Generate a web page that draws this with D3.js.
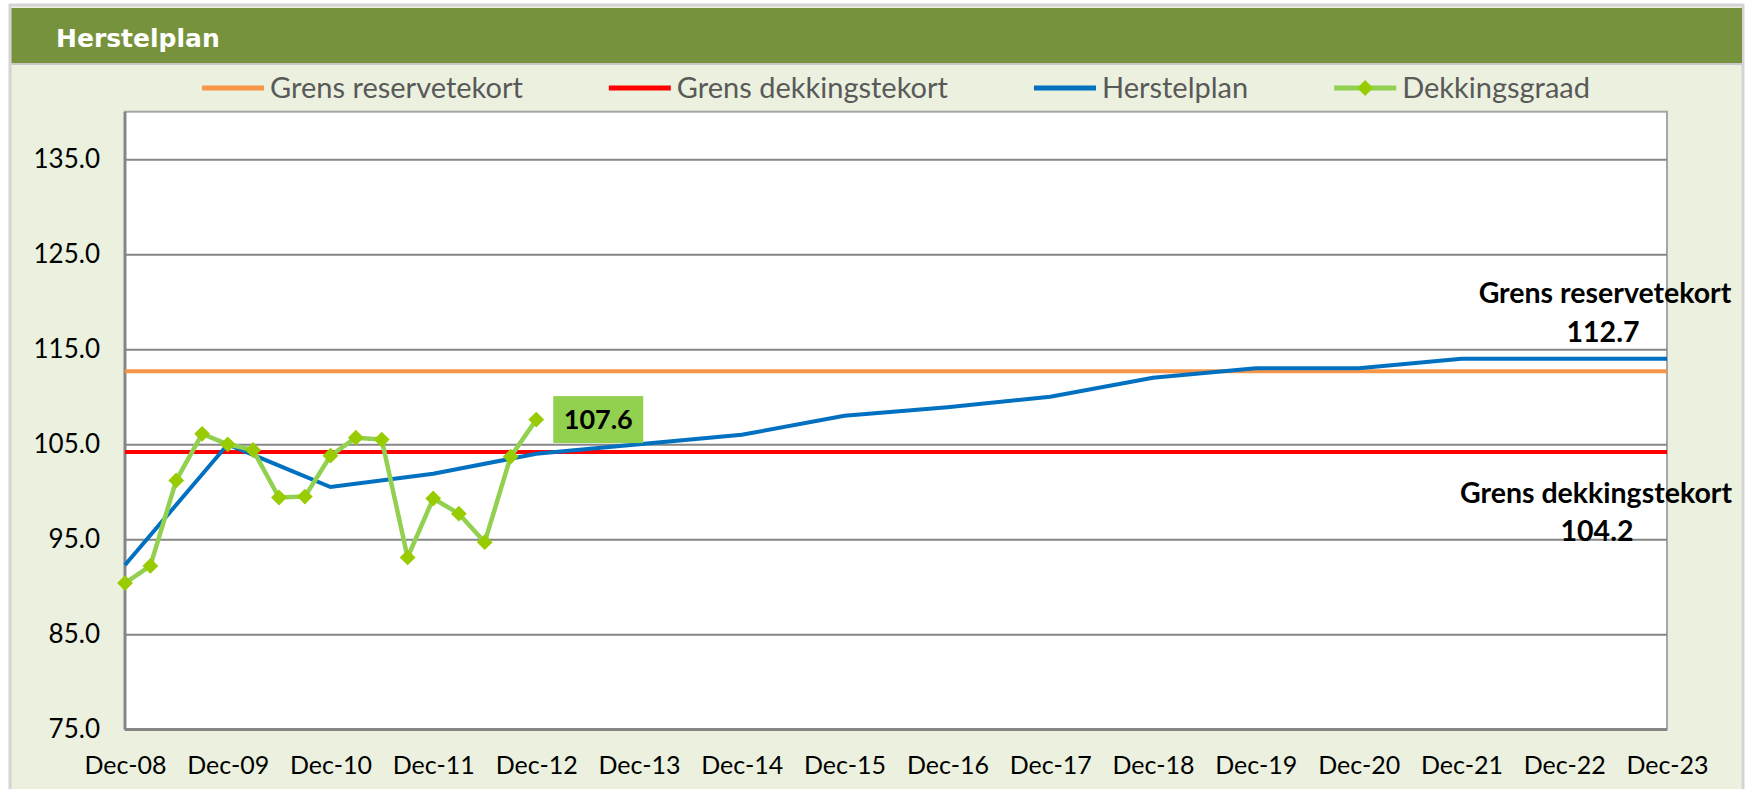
<!DOCTYPE html>
<html>
<head>
<meta charset="utf-8">
<script src="https://cdn.jsdelivr.net/npm/d3@7"></script>
<style>
  body { margin: 0; background: #fff; }
  text { font-family: Lato, "Open Sans", sans-serif; }
</style>
</head>
<body>
<div class="chart"></div>
<script>
// quarterly funding ratio, Dec-08 .. Dec-12
var quarters = ["2008-12", "2009-03", "2009-06", "2009-09", "2009-12", "2010-03", "2010-06", "2010-09",
  "2010-12", "2011-03", "2011-06", "2011-09", "2011-12", "2012-03", "2012-06", "2012-09", "2012-12"];
var dekkingsgraad = [90.4, 92.2, 101.2, 106.1, 105.0, 104.4, 99.4, 99.5,
  103.8, 105.7, 105.5, 93.1, 99.3, 97.7, 94.7, 103.7, 107.6];

// recovery plan, yearly
var years = ["2008-12", "2009-12", "2010-12", "2011-12", "2012-12", "2013-12", "2014-12", "2015-12",
  "2016-12", "2017-12", "2018-12", "2019-12", "2020-12", "2021-12", "2022-12", "2023-12"];
var herstelplan = [92.3, 105.0, 100.5, 101.9, 104.0, 105.0, 106.0, 108.0,
  108.9, 110.0, 112.0, 113.0, 113.0, 114.0, 114.0, 114.0];

var grensReserve = 112.7;
var grensDekking = 104.2;
var yTicks = [75, 85, 95, 105, 115, 125, 135];
var legendNames = ["Grens reservetekort", "Grens dekkingstekort", "Herstelplan", "Dekkingsgraad"];
var legendColors = ["#F79646", "#FF0000", "#0070C0", "#92D050"];

var svgWidth = 1746;
var svgHeight = 789;

var margin = { top: 111.7, right: 79, bottom: 59.6, left: 125 };
var width = svgWidth - margin.left - margin.right;
var height = svgHeight - margin.top - margin.bottom;

var parseMonth = d3.timeParse("%Y-%m");

var svg = d3.select(".chart")
  .append("svg")
  .attr("width", svgWidth)
  .attr("height", svgHeight);

// outer frame and title bar
svg.append("rect")
  .attr("x", 10).attr("y", 5)
  .attr("width", 1733).attr("height", 800)
  .attr("fill", "#EBF1DE")
  .attr("stroke", "#d4d4d4")
  .attr("stroke-width", 3);

svg.append("rect")
  .attr("x", 11.5).attr("y", 8)
  .attr("width", 1730.5).attr("height", 55)
  .attr("fill", "#76923C");

svg.append("line")
  .attr("x1", 11.5).attr("x2", 1742)
  .attr("y1", 64).attr("y2", 64)
  .attr("stroke", "#c8c8c8")
  .attr("stroke-width", 2);

svg.append("text")
  .attr("x", 56)
  .attr("y", 47)
  .attr("fill", "#fff")
  .style("font-family", "'DejaVu Sans', Verdana, sans-serif")
  .style("font-weight", "bold")
  .style("font-size", "25px")
  .text("Herstelplan");

var chartGroup = svg.append("g")
  .attr("transform", `translate(${margin.left}, ${margin.top})`);

// plot area
chartGroup.append("rect")
  .attr("width", width)
  .attr("height", height)
  .attr("fill", "#fff")
  .attr("stroke", "#a6a6a6")
  .attr("stroke-width", 2);

var xScale = d3.scaleTime()
  .domain([parseMonth(years[0]), parseMonth(years[years.length - 1])])
  .range([0, width]);

var yScale = d3.scaleLinear()
  .domain([75, 140])
  .range([height, 0]);

// y axis with gridlines
var leftAxis = d3.axisLeft(yScale)
  .tickValues(yTicks)
  .tickFormat(d3.format(".1f"))
  .tickSize(-width)
  .tickPadding(25);

var yAxis = chartGroup.append("g")
  .call(leftAxis);
yAxis.select(".domain").remove();
yAxis.selectAll(".tick line")
  .attr("stroke", "#868686")
  .attr("stroke-width", 2);
yAxis.selectAll(".tick text")
  .attr("fill", "#000")
  .style("font-size", "26px");

var bottomAxis = d3.axisBottom(xScale)
  .tickValues(years.map(parseMonth))
  .tickFormat(d3.timeFormat("%b-%y"))
  .tickSize(0)
  .tickPadding(27);

var xAxis = chartGroup.append("g")
  .attr("transform", `translate(0, ${height})`)
  .call(bottomAxis);
xAxis.select(".domain").remove();
xAxis.selectAll(".tick text")
  .attr("fill", "#000")
  .style("font-size", "25px");

// axis lines
chartGroup.append("line")
  .attr("x1", 0).attr("x2", 0)
  .attr("y1", 0).attr("y2", height)
  .attr("stroke", "#868686")
  .attr("stroke-width", 3);
chartGroup.append("line")
  .attr("x1", 0).attr("x2", width)
  .attr("y1", height).attr("y2", height)
  .attr("stroke", "#868686")
  .attr("stroke-width", 3);

// limit lines
chartGroup.append("line")
  .attr("x1", 0).attr("x2", width)
  .attr("y1", yScale(grensReserve)).attr("y2", yScale(grensReserve))
  .attr("stroke", legendColors[0])
  .attr("stroke-width", 4);

chartGroup.append("line")
  .attr("x1", 0).attr("x2", width)
  .attr("y1", yScale(grensDekking)).attr("y2", yScale(grensDekking))
  .attr("stroke", legendColors[1])
  .attr("stroke-width", 4);

// recovery plan
var planLine = d3.line()
  .x((d, i) => xScale(parseMonth(years[i])))
  .y(d => yScale(d));

chartGroup.append("path")
  .datum(herstelplan)
  .attr("d", planLine)
  .attr("fill", "none")
  .attr("stroke", legendColors[2])
  .attr("stroke-width", 4);

// funding ratio
var ratioLine = d3.line()
  .x((d, i) => xScale(parseMonth(quarters[i])))
  .y(d => yScale(d));

chartGroup.append("path")
  .datum(dekkingsgraad)
  .attr("d", ratioLine)
  .attr("fill", "none")
  .attr("stroke", legendColors[3])
  .attr("stroke-width", 4.5)
  .attr("stroke-linejoin", "round");

var diamond = d3.symbol().type(d3.symbolSquare).size(125);

chartGroup.selectAll(".marker")
  .data(dekkingsgraad)
  .enter()
  .append("path")
  .attr("class", "marker")
  .attr("d", diamond)
  .attr("transform", (d, i) => `translate(${xScale(parseMonth(quarters[i]))}, ${yScale(d)}) rotate(45)`)
  .attr("fill", "#99CC00");

// label on last point
var lastIdx = dekkingsgraad.length - 1;
var lastX = xScale(parseMonth(quarters[lastIdx]));
var lastY = yScale(dekkingsgraad[lastIdx]);

chartGroup.append("rect")
  .attr("x", lastX + 17)
  .attr("y", lastY - 23.5)
  .attr("width", 90)
  .attr("height", 47)
  .attr("fill", "#92D050");

chartGroup.append("text")
  .attr("x", lastX + 62)
  .attr("y", lastY + 9.5)
  .attr("text-anchor", "middle")
  .style("font-weight", "bold")
  .style("font-size", "27px")
  .attr("fill", "#000")
  .text(d3.format(".1f")(dekkingsgraad[lastIdx]));

// limit annotations on the right
var reserveLabel = chartGroup.append("text")
  .attr("text-anchor", "middle")
  .style("font-weight", "bold")
  .style("font-size", "28.5px")
  .attr("fill", "#000");
reserveLabel.append("tspan")
  .attr("x", width - 62)
  .attr("y", yScale(grensReserve) - 68)
  .text("Grens reservetekort");
reserveLabel.append("tspan")
  .attr("x", width - 64)
  .attr("y", yScale(grensReserve) - 29)
  .text(d3.format(".1f")(grensReserve));

var dekkingLabel = chartGroup.append("text")
  .attr("text-anchor", "middle")
  .style("font-weight", "bold")
  .style("font-size", "28.5px")
  .attr("fill", "#000");
dekkingLabel.append("tspan")
  .attr("x", width - 71)
  .attr("y", yScale(grensDekking) + 51)
  .text("Grens dekkingstekort");
dekkingLabel.append("tspan")
  .attr("x", width - 70)
  .attr("y", yScale(grensDekking) + 89)
  .text(d3.format(".1f")(grensDekking));

// legend, centred over the plot
var legendGroup = svg.append("g")
  .attr("transform", `translate(0, 88)`);

var items = legendGroup.selectAll(".legend-item")
  .data(legendNames)
  .enter()
  .append("g")
  .attr("class", "legend-item");

items.append("line")
  .attr("x1", 0).attr("x2", 62)
  .attr("y1", 0).attr("y2", 0)
  .attr("stroke", (d, i) => legendColors[i])
  .attr("stroke-width", 5);

items.filter((d, i) => i === 3)
  .append("path")
  .attr("d", diamond)
  .attr("transform", "translate(31, 0) rotate(45)")
  .attr("fill", "#99CC00");

items.append("text")
  .attr("x", 68)
  .attr("dy", "0.35em")
  .attr("fill", "#595959")
  .style("font-size", "29px")
  .text(d => d);

var itemWidths = [];
items.each(function() {
  itemWidths.push(68 + d3.select(this).select("text").node().getComputedTextLength());
});
var gap = 86;
var total = d3.sum(itemWidths) + gap * (itemWidths.length - 1);
var cursor = margin.left + width / 2 - total / 2;
items.attr("transform", function(d, i) {
  var x = cursor;
  cursor += itemWidths[i] + gap;
  return `translate(${x}, 0)`;
});
</script>
</body>
</html>
